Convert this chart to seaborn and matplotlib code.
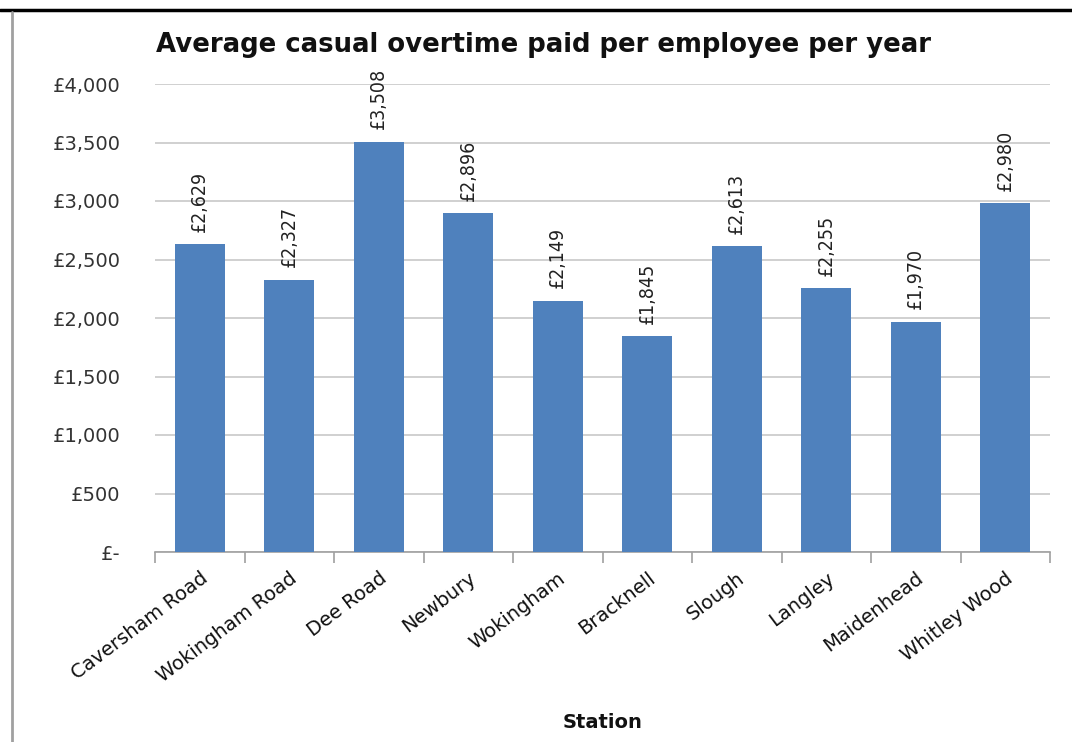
import matplotlib
matplotlib.use("Agg")
import matplotlib.pyplot as plt
import seaborn as sns
import pandas as pd
from matplotlib.ticker import FuncFormatter, FixedLocator
from matplotlib.lines import Line2D

stations = ["Caversham Road", "Wokingham Road", "Dee Road", "Newbury", "Wokingham",
            "Bracknell", "Slough", "Langley", "Maidenhead", "Whitley Wood"]
overtime = [2629, 2327, 3508, 2896, 2149, 1845, 2613, 2255, 1970, 2980]
y_ticks = [0, 500, 1000, 1500, 2000, 2500, 3000, 3500, 4000]

sns.set_theme(style="white")
plt.rcParams['font.family'] = ['DejaVu Sans']

df = pd.DataFrame({"Station": stations, "Overtime": overtime})

fig = plt.figure(figsize=(10.72, 7.42), dpi=100)
ax = fig.add_axes([155/1072, 1 - 552/742, (1050-155)/1072, (552-84)/742])

sns.barplot(data=df, x="Station", y="Overtime", color="#4F81BD", width=0.56,
            saturation=1, linewidth=0, ax=ax, zorder=3)

ax.set_ylim(0, 4000)
ax.set_xlim(-0.5, len(stations) - 0.5)
ax.yaxis.set_major_locator(FixedLocator(y_ticks))
ax.yaxis.set_major_formatter(FuncFormatter(lambda v, p: "£-" if v == 0 else f"£{v:,.0f}"))
ax.grid(axis="y", color="#C8C8C8", linewidth=1.2, zorder=0)
ax.set_axisbelow(True)
for s in ["top", "right", "left"]:
    ax.spines[s].set_visible(False)
ax.spines["bottom"].set_color("#A0A0A0")
ax.spines["bottom"].set_linewidth(1.2)

ax.tick_params(axis="y", length=0, pad=25, labelsize=14, labelcolor="#333333")
ax.set_xticks(range(len(stations)))
ax.set_xticklabels(stations, rotation=37, ha="right", rotation_mode="anchor",
                   fontsize=14, color="#111111")
ax.tick_params(axis="x", which="major", length=0, pad=12)
ax.set_xticks([i - 0.5 for i in range(len(stations) + 1)], minor=True)
ax.tick_params(axis="x", which="minor", length=8, width=1.2, color="#A0A0A0",
               direction="out", bottom=True)

ax.set_xlabel("Station", fontsize=14, fontweight="bold", color="#111111")
ax.set_ylabel("")
ax.xaxis.set_label_coords(0.5, -0.345)

for i, v in enumerate(overtime):
    ax.annotate(f"£{v:,}", (i, v), xytext=(0, 9), textcoords="offset points",
                rotation=90, ha="center", va="bottom", fontsize=14,
                fontstretch="condensed", color="#222222",
                family=["Liberation Sans Narrow", "DejaVu Sans"])

fig.text(543/1072, 1 - 45/742, "Average casual overtime paid per employee per year",
         ha="center", va="center", fontsize=18.7, fontweight="bold", color="#111111")

fig.add_artist(Line2D([0, 1], [1 - 10/742, 1 - 10/742], color="black", linewidth=2.5,
                      transform=fig.transFigure))
fig.add_artist(Line2D([12/1072, 12/1072], [0, 1 - 12/742], color="#A0A0A0", linewidth=2,
                      transform=fig.transFigure))

fig.savefig("out.png", dpi=100, facecolor="white")
